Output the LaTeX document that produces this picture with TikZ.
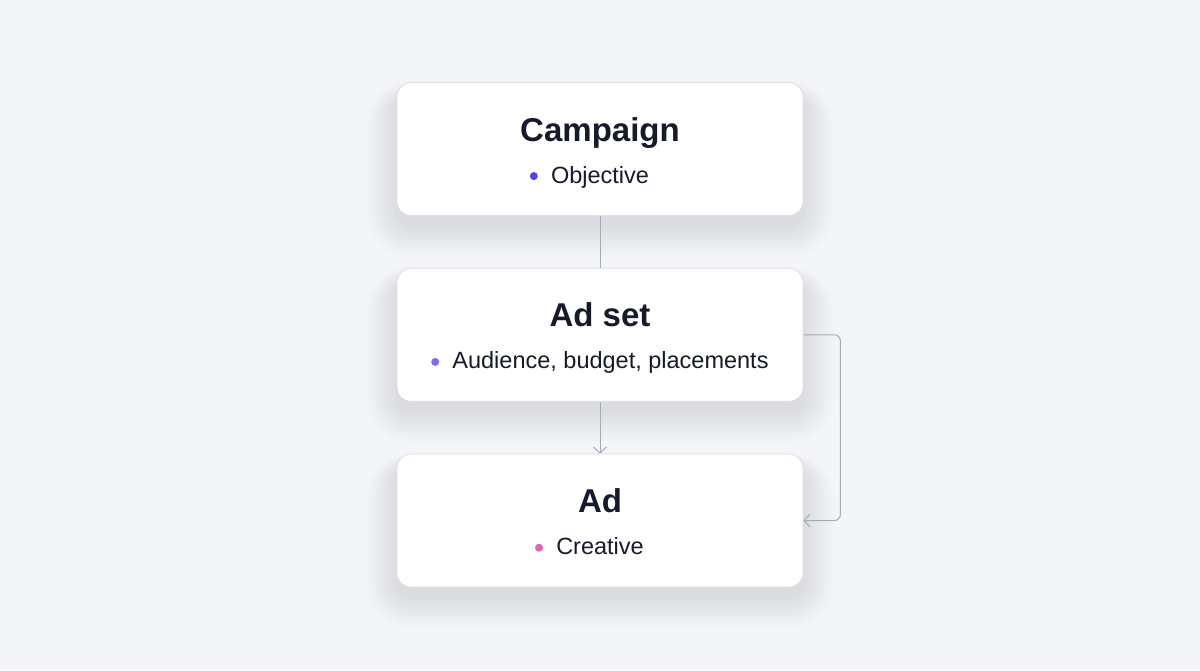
\documentclass[tikz,border=0pt]{standalone}
\usepackage{fontspec}
\setmainfont{Liberation Sans}
\usetikzlibrary{positioning,arrows.meta,backgrounds}

\definecolor{bgcol}{HTML}{F4F5F8}
\definecolor{cardline}{HTML}{DDDFE5}
\definecolor{shadecol}{HTML}{3A3F6A}
\definecolor{ink}{HTML}{161A2B}
\definecolor{linkcol}{HTML}{A6AAB3}
\definecolor{campcol}{HTML}{4F46E5}
\definecolor{setcol}{HTML}{7C6EE6}
\definecolor{adcol}{HTML}{E064B6}

\begin{document}
\begin{tikzpicture}[x=1pt, y=1pt,
    card/.style={rectangle, draw=cardline, fill=white, line width=0.8pt,
            rounded corners=14pt, minimum width=406pt, minimum height=133pt},
    title/.style={anchor=base, inner sep=0pt, text=ink,
            font=\bfseries\fontsize{33}{40}\selectfont},
    item/.style={anchor=base, inner sep=0pt, text=ink,
            font=\fontsize{23.5}{28}\selectfont},
    link/.style={draw=linkcol, line width=1pt},
    >={Straight Barb[length=6pt,width=13pt]}]

  \useasboundingbox (0,0) rectangle (1200,670);

  \node[card] (campaign) at (600,521) {};
  \node[card, below=52pt of campaign] (adset) {};
  \node[card, below=52pt of adset] (ad) {};

  \begin{scope}[on background layer]
    \fill[bgcol] (0,0) rectangle (1200,670);
    % soft shadow under each card
    \foreach \b in {campaign,adset,ad}
      \foreach \i in {0,...,24}
        \fill[shadecol, opacity=0.0035, rounded corners={(14+1.3*\i)*1pt}]
          ([shift={(-1.3*\i,-10-1.3*\i)}]\b.south west) rectangle ([shift={(1.3*\i,-14+0.6*\i)}]\b.north east);
  \end{scope}

  \node[title] (campaign-t) at ([yshift=-59pt]campaign.north) {Campaign};
  \node[item] (campaign-i) at ([yshift=-101pt]campaign.north) {Objective};
  \fill[campcol] ([shift={(-17pt,7pt)}]campaign-i.base west) circle (4pt);

  \node[title] (adset-t) at ([yshift=-59pt]adset.north) {Ad set};
  \node[item] (adset-i) at ([shift={(10.5pt,-101pt)}]adset.north) {Audience, budget, placements};
  \fill[setcol] ([shift={(-17pt,7pt)}]adset-i.base west) circle (4pt);

  \node[title] (ad-t) at ([yshift=-59pt]ad.north) {Ad};
  \node[item] (ad-i) at ([yshift=-101pt]ad.north) {Creative};
  \fill[adcol] ([shift={(-17pt,7pt)}]ad-i.base west) circle (4pt);

  \draw[link] (campaign) -- (adset);
  \draw[link, ->] (adset) -- (ad);
  \draw[link, ->, rounded corners=6pt] (adset.east) -- ++(37pt,0) |- (ad.east);
\end{tikzpicture}
\end{document}
